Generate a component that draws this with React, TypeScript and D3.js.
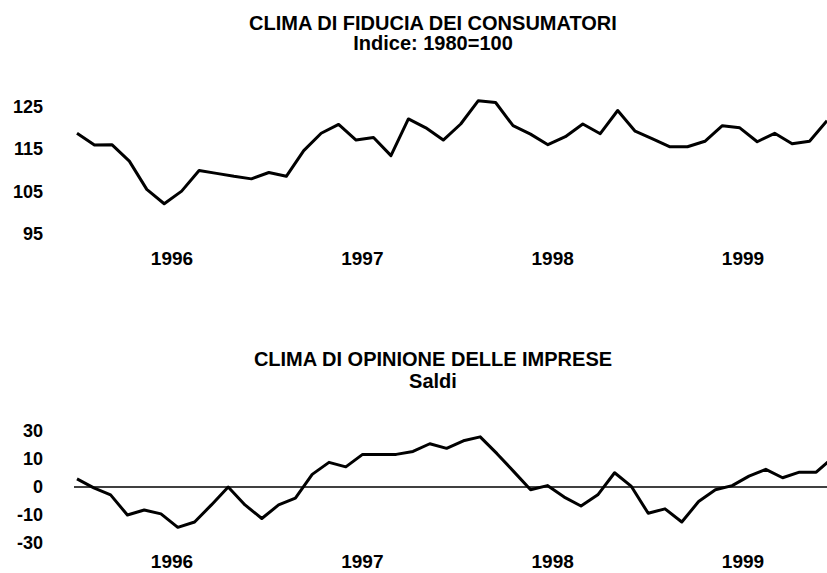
import React from 'react';
import * as d3 from 'd3';

// ---- Data ----
const yearLabels = [1996, 1997, 1998, 1999];

// Consumer confidence index (1980=100), 11 observations per year
const consumerIndex = [
  118.7, 115.9, 116.0, 112.1, 105.4, 102.0, 105.0, 109.9, 109.2, 108.5, 107.9,
  109.4, 108.5, 114.6, 118.7, 120.8, 117.1, 117.7, 113.4, 122.1, 120.0, 117.1,
  120.9, 126.4, 126.0, 120.5, 118.5, 116.0, 117.9, 120.9, 118.6, 124.1, 119.2,
  117.4, 115.5, 115.5, 116.8, 120.5, 120.0, 116.7, 118.7, 116.2, 116.8, 121.7,
];

// Business opinion climate (balances)
const businessBalance = [
  2.9, -0.3, -2.8, -10.0, -8.2, -9.6, -18.8, -15.0, -6.4, 0.0, -6.4, -12.5,
  -6.4, -4.0, 4.5, 8.8, 7.2, 13.3, 13.3, 13.3, 15.4, 20.9, 17.6, 23.0,
  25.8, 13.8, 5.5, -1.0, 0.5, -3.6, -6.8, -2.8, 5.1, 0.2, -9.4, -7.8,
  -15.0, -5.2, -1.0, 0.5, 3.9, 6.3, 3.3, 5.3, 5.3, 11.1,
];

const topTicks = [125, 115, 105, 95];
const bottomTicks = [30, 10, 0, -10, -30];

const FONT = '"Liberation Sans", Arial, Helvetica, sans-serif';

export default function App() {
  const W = 827;
  const H = 573;

  // Top chart scales
  const xTop = d3.scaleLinear().domain([0, consumerIndex.length - 1]).range([77, 827]);
  const yTop = d3.scaleLinear().domain([95, 125]).range([233.3, 106.7]);

  // Bottom chart scales (axis labels are evenly spaced, piecewise-linear scale)
  const xBot = d3
    .scaleLinear()
    .domain([0, businessBalance.length - 1])
    .range([77, 77 + (businessBalance.length - 1) * 16.8]);
  const bottomDomain = [...bottomTicks].sort((a, b) => a - b);
  const yBot = d3
    .scaleLinear()
    .domain(bottomDomain)
    .range(bottomDomain.map((_, i) => 543 - i * 28));

  // Year label scale (label centred in each year)
  const xYear = d3.scaleLinear().domain([1996, 1999]).range([172, 743]);

  const lineTop = d3
    .line<number>()
    .x((_, i) => xTop(i))
    .y((d) => yTop(d));
  const lineBot = d3
    .line<number>()
    .x((_, i) => xBot(i))
    .y((d) => yBot(d));

  return (
    <svg
      width={W}
      height={H}
      viewBox={`0 0 ${W} ${H}`}
      style={{ position: 'absolute', left: 0, top: 0, background: '#fff' }}
      fontFamily={FONT}
    >
      <rect x={0} y={0} width={W} height={H} fill="#fff" />

      {/* Top titles */}
      <text x={433} y={30} textAnchor="middle" fontSize={20} fontWeight="bold" fill="#000">
        CLIMA DI FIDUCIA DEI CONSUMATORI
      </text>
      <text x={433} y={50} textAnchor="middle" fontSize={20} fontWeight="bold" fill="#000">
        Indice: 1980=100
      </text>

      {/* Top y labels */}
      {topTicks.map((t) => (
        <text key={'yt' + t} x={43} y={yTop(t)} dy="0.36em" textAnchor="end" fontSize={18} fontWeight="bold" fill="#000">
          {t}
        </text>
      ))}

      {/* Top line */}
      <path d={lineTop(consumerIndex) || ''} fill="none" stroke="#000" strokeWidth={3} strokeLinejoin="round" />

      {/* Top year labels */}
      {yearLabels.map((y) => (
        <text key={'yrt' + y} x={xYear(y)} y={265} textAnchor="middle" fontSize={19} fontWeight="bold" fill="#000">
          {y}
        </text>
      ))}

      {/* Bottom titles */}
      <text x={433} y={366} textAnchor="middle" fontSize={20} fontWeight="bold" fill="#000">
        CLIMA DI OPINIONE DELLE IMPRESE
      </text>
      <text x={433} y={388} textAnchor="middle" fontSize={20} fontWeight="bold" fill="#000">
        Saldi
      </text>

      {/* Bottom y labels */}
      {bottomTicks.map((t) => (
        <text key={'yb' + t} x={43} y={yBot(t)} dy="0.36em" textAnchor="end" fontSize={18} fontWeight="bold" fill="#000">
          {t}
        </text>
      ))}

      {/* Zero line */}
      <line x1={74} x2={W} y1={yBot(0)} y2={yBot(0)} stroke="#000" strokeWidth={1.5} />

      {/* Bottom line */}
      <path d={lineBot(businessBalance) || ''} fill="none" stroke="#000" strokeWidth={3} strokeLinejoin="round" />

      {/* Bottom year labels */}
      {yearLabels.map((y) => (
        <text key={'yrb' + y} x={xYear(y)} y={568} textAnchor="middle" fontSize={19} fontWeight="bold" fill="#000">
          {y}
        </text>
      ))}
    </svg>
  );
}
